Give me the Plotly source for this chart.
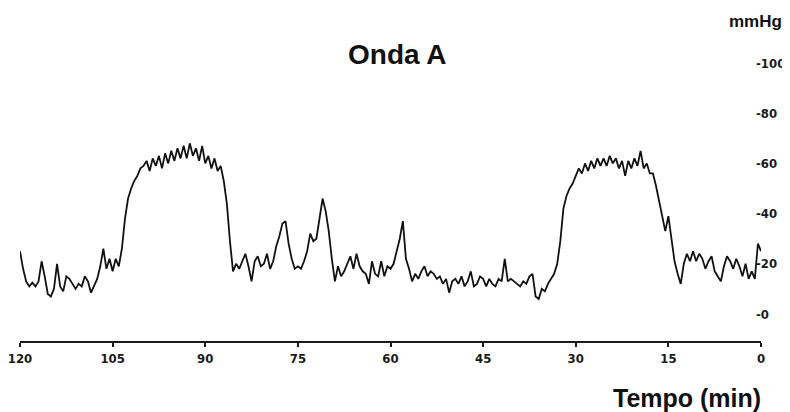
import plotly.graph_objects as go

# Time (minutes), from 120 down to 0 in 0.5-min steps
minutes = [120 - 0.5 * i for i in range(241)]

# Pressure values (mmHg), in the same order as `minutes`
pressure = [
    25, 18, 13, 11, 12.5, 11, 13, 21, 15, 8,          # 120 -> 115.5
    7, 10, 20, 11, 9, 15, 14, 12, 10, 12,              # 115 -> 110.5
    11, 15, 13, 8.5, 11, 14, 19, 26, 18, 22,           # 110 -> 105.5
    17, 22, 19, 26, 38, 46, 50, 53, 55, 58,            # 105 -> 100.5
    59, 61, 57, 62, 59, 63, 58, 64, 60, 65,            # 100 -> 95.5
    61, 66, 62, 67, 62, 68, 63, 66, 61, 67,            # 95 -> 90.5
    60, 63, 58, 62, 57, 59, 53, 44, 29, 17,            # 90 -> 85.5
    20, 18, 21, 24, 19, 13, 21, 23, 19, 20,            # 85 -> 80.5
    24, 18, 21, 27, 31, 36, 37, 28, 22, 18,            # 80 -> 75.5
    19, 18, 21, 25, 32, 29, 30, 38, 46, 41,            # 75 -> 70.5
    33, 22, 13, 19, 15, 17, 20, 23, 18, 24,            # 70 -> 65.5
    19, 17, 16, 12, 21, 16, 15, 21, 15, 19,            # 65 -> 60.5
    18, 20, 25, 30, 37, 22, 18, 13, 16, 14,            # 60 -> 55.5
    17, 19, 15, 17, 16, 14, 15, 12, 14, 8.5,           # 55 -> 50.5
    13, 14, 12, 15, 11, 13, 17, 11, 12, 15,            # 50 -> 45.5
    14, 11, 14, 12, 11, 14, 13, 22, 13, 14,            # 45 -> 40.5
    13, 12, 11, 13, 12, 15, 16, 7, 6, 10,              # 40 -> 35.5
    9, 12, 14, 16, 20, 29, 42, 47, 50, 52,             # 35 -> 30.5
    55, 58, 56, 60, 57, 61, 58, 62, 59, 62,            # 30 -> 25.5
    59, 63, 60, 62, 58, 61, 55, 61, 58, 62,            # 25 -> 20.5
    59, 65, 58, 60, 56, 56, 51, 45, 38, 33,            # 20 -> 15.5
    39, 30, 21, 16, 12, 20, 24, 21, 25, 21,            # 15 -> 10.5
    24, 22, 18, 21, 23, 17, 15, 13, 19, 23,            # 10 -> 5.5
    21, 18, 22, 19, 15, 20, 14, 17, 14, 28,            # 5 -> 0.5
    25,                                                # 0
]

x_ticks = [120, 105, 90, 75, 60, 45, 30, 15, 0]
x_tick_labels = ["120", "105", "90", "75", "60", "45", "30", "15", "0"]
y_ticks = [0, 20, 40, 60, 80, 100]
y_tick_labels = ["-0", "-20", "-40", "-60", "-80", "-100"]

title_text = "Onda A"
unit_text = "mmHg"
x_title_text = "Tempo (min)"

narrow = "DejaVu Sans Condensed, Liberation Sans Narrow, sans-serif"
sans = "Liberation Sans, Arial, Helvetica, sans-serif"

fig = go.Figure()
fig.add_trace(go.Scatter(
    x=minutes, y=pressure, mode="lines",
    line=dict(color="#111111", width=1.8),
    hoverinfo="skip", showlegend=False,
))

# The page body has an 8px margin, so the figure is sized 782x404 to fill 790x412.
fig.update_layout(
    width=782, height=404,
    margin=dict(l=12, r=29, t=32, b=71, autoexpand=False),
    paper_bgcolor="white", plot_bgcolor="white",
    showlegend=False,
    xaxis=dict(
        range=[120, 0], showgrid=False, zeroline=False, automargin=False,
        showline=True, linecolor="#1a1a1a", linewidth=2,
        ticks="outside", ticklen=4, tickwidth=1.5, tickcolor="#1a1a1a",
        tickvals=x_ticks, ticktext=x_tick_labels,
        ticklabeloverflow="allow",
        tickfont=dict(family=narrow, size=13, color="#1a1a1a", weight="bold"),
    ),
    yaxis=dict(
        range=[-10.76, 109.16], side="right", showgrid=False, zeroline=False,
        automargin=False,
        showline=False, ticks="",
        tickvals=y_ticks, ticktext=y_tick_labels,
        ticklabelstandoff=-6,
        ticklabeloverflow="allow",
        tickfont=dict(family=narrow, size=13, color="#1a1a1a", weight="bold"),
    ),
    annotations=[
        dict(text=title_text, xref="paper", yref="paper", x=0.509, y=0.953,
             xanchor="center", yanchor="middle", showarrow=False,
             font=dict(family=sans, size=28, color="#111111", weight="bold")),
        dict(text=unit_text, xref="paper", yref="paper", x=1.031, y=1.06,
             xanchor="right", yanchor="middle", showarrow=False,
             font=dict(family=sans, size=17, color="#111111", weight="bold")),
        dict(text=x_title_text, xref="paper", yref="paper", x=1.003, y=-0.189,
             xanchor="right", yanchor="middle", showarrow=False,
             font=dict(family=sans, size=25, color="#111111", weight="bold")),
    ],
)

fig.write_html("out.html", config={"displayModeBar": False})
